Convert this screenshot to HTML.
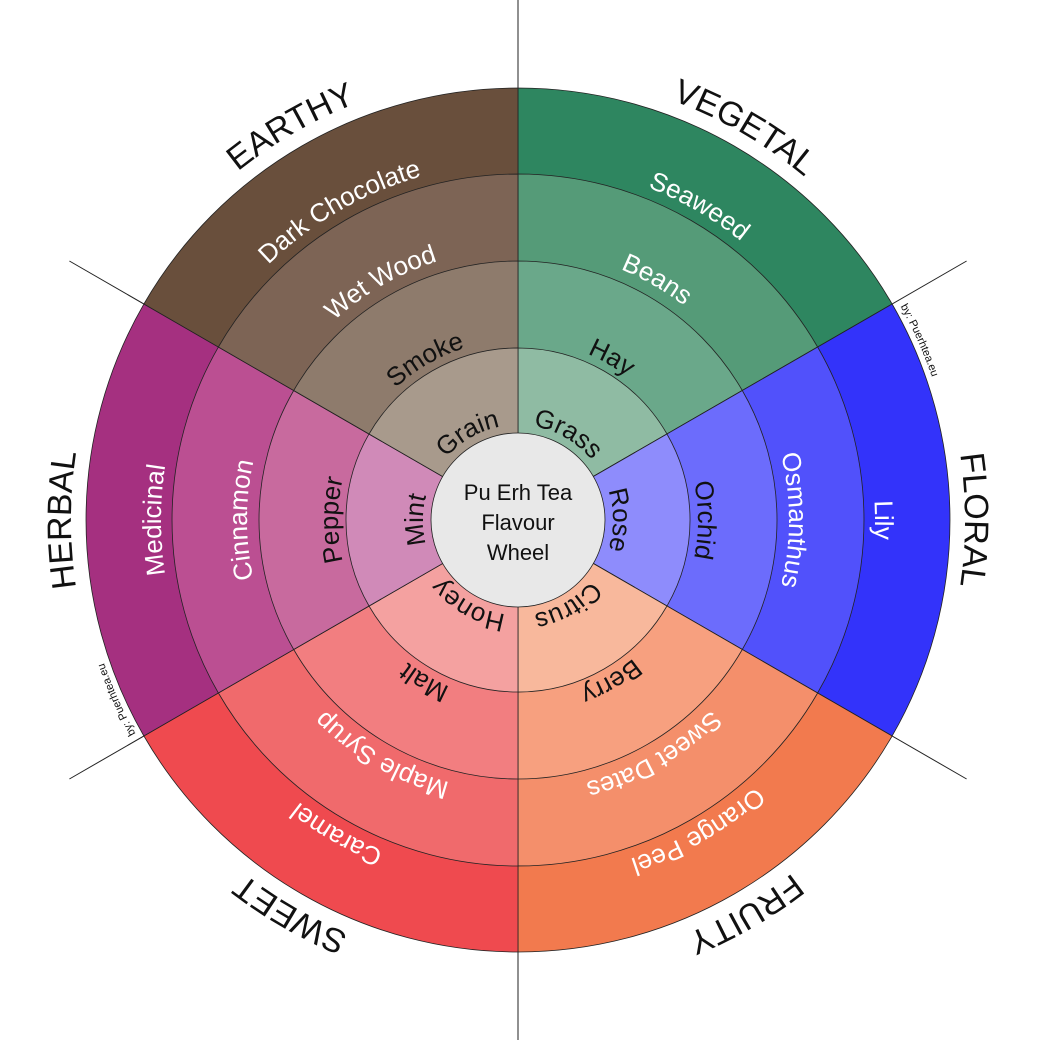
<!DOCTYPE html>
<html><head><meta charset="utf-8"><style>html,body{margin:0;padding:0;background:#fff}svg{display:block}</style></head>
<body>
<svg width="1046" height="1046" viewBox="0 0 1046 1046" xmlns="http://www.w3.org/2000/svg" font-family="Liberation Sans, sans-serif">
<defs>
<path id="w4" d="M518,520 L518,88 A432,432 0 0 1 892.1,304 Z"/>
<path id="w3" d="M518,520 L518,174 A346,346 0 0 1 817.6,347 Z"/>
<path id="w2" d="M518,520 L518,261 A259,259 0 0 1 742.3,390.5 Z"/>
<path id="w1" d="M518,520 L518,348 A172,172 0 0 1 667,434 Z"/>
<path id="c1" d="M518,615 A95,95 0 1 1 518,425 A95,95 0 1 1 518,615"/>
<path id="c2" d="M518,700 A180,180 0 1 1 518,340 A180,180 0 1 1 518,700"/>
<path id="c3" d="M518,791 A271,271 0 1 1 518,249 A271,271 0 1 1 518,791"/>
<path id="c4" d="M518,877 A357,357 0 1 1 518,163 A357,357 0 1 1 518,877"/>
<path id="c5" d="M518,967 A447,447 0 1 1 518,73 A447,447 0 1 1 518,967"/>
<path id="c6" d="M518,958 A438,438 0 1 1 518,82 A438,438 0 1 1 518,958"/>
</defs>
<line x1="518" y1="0" x2="518" y2="1040" stroke="#222" stroke-width="1"/>
<line x1="69.4" y1="261" x2="966.6" y2="779" stroke="#222" stroke-width="1"/>
<line x1="69.4" y1="779" x2="966.6" y2="261" stroke="#222" stroke-width="1"/>
<g stroke="#222" stroke-width="0.8">
<g><use href="#w4" fill="#2e8660"/><use href="#w3" fill="#559b78"/><use href="#w2" fill="#6aa88a"/><use href="#w1" fill="#8fbba3"/></g>
<g transform="rotate(60 518 520)"><use href="#w4" fill="#3333fa"/><use href="#w3" fill="#5151fb"/><use href="#w2" fill="#6c6cfc"/><use href="#w1" fill="#8e8cfc"/></g>
<g transform="rotate(120 518 520)"><use href="#w4" fill="#f27a4e"/><use href="#w3" fill="#f48f6b"/><use href="#w2" fill="#f7a07f"/><use href="#w1" fill="#f8b89c"/></g>
<g transform="rotate(180 518 520)"><use href="#w4" fill="#ef4a4f"/><use href="#w3" fill="#f06a6c"/><use href="#w2" fill="#f27e80"/><use href="#w1" fill="#f4a1a0"/></g>
<g transform="rotate(240 518 520)"><use href="#w4" fill="#a53080"/><use href="#w3" fill="#bb4f92"/><use href="#w2" fill="#c86a9e"/><use href="#w1" fill="#d08ab8"/></g>
<g transform="rotate(300 518 520)"><use href="#w4" fill="#694f3c"/><use href="#w3" fill="#7d6455"/><use href="#w2" fill="#8e7b6c"/><use href="#w1" fill="#a89a8c"/></g>
</g>
<circle cx="518" cy="520" r="87" fill="#e8e8e8" stroke="#222" stroke-width="0.8"/>
<g font-size="22" fill="#111" text-anchor="middle">
<text x="518" y="500">Pu Erh Tea</text><text x="518" y="530">Flavour</text><text x="518" y="560">Wheel</text>
</g>
<g font-size="26" text-anchor="middle">
<!-- EARTHY -->
<g transform="rotate(-30 518 520)">
<text fill="#111"><textPath href="#c1" startOffset="50%">Grain</textPath></text>
<text fill="#111"><textPath href="#c2" startOffset="50%">Smoke</textPath></text>
<text fill="#fff"><textPath href="#c3" startOffset="50%">Wet Wood</textPath></text>
<text fill="#fff"><textPath href="#c4" startOffset="50%">Dark Chocolate</textPath></text>
<text fill="#111" font-size="34"><textPath href="#c5" startOffset="50%">EARTHY</textPath></text>
</g>
<g transform="rotate(30 518 520)">
<text fill="#111"><textPath href="#c1" startOffset="50%">Grass</textPath></text>
<text fill="#111"><textPath href="#c2" startOffset="50%">Hay</textPath></text>
<text fill="#fff"><textPath href="#c3" startOffset="50%">Beans</textPath></text>
<text fill="#fff"><textPath href="#c4" startOffset="50%">Seaweed</textPath></text>
<text fill="#111" font-size="34"><textPath href="#c5" startOffset="50%">VEGETAL</textPath></text>
</g>
<g transform="rotate(90 518 520)">
<text fill="#111"><textPath href="#c1" startOffset="50%">Rose</textPath></text>
<text fill="#111"><textPath href="#c2" startOffset="50%">Orchid</textPath></text>
<text fill="#fff"><textPath href="#c3" startOffset="50%">Osmanthus</textPath></text>
<text fill="#fff"><textPath href="#c4" startOffset="50%">Lily</textPath></text>
<text fill="#111" font-size="34"><textPath href="#c5" startOffset="50%">FLORAL</textPath></text>
<text fill="#111" font-size="11"><textPath href="#c6" startOffset="43.3%">by: Puerhtea.eu</textPath></text>
</g>
<g transform="rotate(150 518 520)">
<text fill="#111"><textPath href="#c1" startOffset="50%">Citrus</textPath></text>
<text fill="#111"><textPath href="#c2" startOffset="50%">Berry</textPath></text>
<text fill="#fff"><textPath href="#c3" startOffset="50%">Sweet Dates</textPath></text>
<text fill="#fff"><textPath href="#c4" startOffset="50%">Orange Peel</textPath></text>
<text fill="#111" font-size="34"><textPath href="#c5" startOffset="50%">FRUITY</textPath></text>
</g>
<g transform="rotate(210 518 520)">
<text fill="#111"><textPath href="#c1" startOffset="50%">Honey</textPath></text>
<text fill="#111"><textPath href="#c2" startOffset="50%">Malt</textPath></text>
<text fill="#fff"><textPath href="#c3" startOffset="50%">Maple Syrup</textPath></text>
<text fill="#fff"><textPath href="#c4" startOffset="50%">Caramel</textPath></text>
<text fill="#111" font-size="34"><textPath href="#c5" startOffset="50%">SWEET</textPath></text>
</g>
<g transform="rotate(270 518 520)">
<text fill="#111"><textPath href="#c1" startOffset="50%">Mint</textPath></text>
<text fill="#111"><textPath href="#c2" startOffset="50%">Pepper</textPath></text>
<text fill="#fff"><textPath href="#c3" startOffset="50%">Cinnamon</textPath></text>
<text fill="#fff"><textPath href="#c4" startOffset="50%">Medicinal</textPath></text>
<text fill="#111" font-size="34"><textPath href="#c5" startOffset="50%">HERBAL</textPath></text>
<text fill="#111" font-size="11"><textPath href="#c6" startOffset="43.3%">by: Puerhtea.eu</textPath></text>
</g>
</g>
</svg>
</body></html>
